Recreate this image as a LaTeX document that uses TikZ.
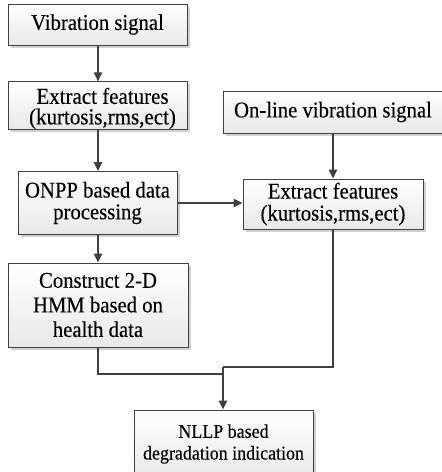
\documentclass[tikz,border=0pt]{standalone}
\usepackage{fontspec}
\setmainfont{Liberation Serif}[FakeStretch=0.92,FakeBold=0.25]
\usetikzlibrary{arrows.meta,shadows,calc}
\definecolor{linec}{HTML}{404040}
\tikzset{
  box/.style={draw=linec, line width=1pt, rectangle, inner sep=0pt, align=center,
    top color=white, bottom color=black!9, text=black,
    drop shadow={shadow xshift=2.5pt, shadow yshift=-2.5pt, fill=black!18, opacity=1},
    font=\fontsize{22.5}{23.6}\selectfont},
  conn/.style={draw=linec, line width=1.4pt},
  arr/.style={conn, -{Triangle[length=9pt,width=8.5pt]}},
}
\begin{document}
\begin{tikzpicture}[x=1pt,y=-1pt]
\useasboundingbox (0,0) rectangle (442,472);
\node[box, minimum width=179pt, minimum height=44pt, font=\fontsize{22.8}{20.5}\selectfont] (f1) at (97.5,105.5) {\rule{0pt}{22pt}\hspace*{10pt}Extract features\\\hspace*{10pt}(kurtosis,rms,ect)};
\node[box, minimum width=179pt, minimum height=41pt] (v1) at (97.5,24.5) {Vibration signal};
\node[box, minimum width=159pt, minimum height=63pt, font=\fontsize{22.5}{21.7}\selectfont] (onpp) at (97.5,203) {ONPP based data\\processing};
\node[box, minimum width=180pt, minimum height=84pt, font=\fontsize{22.5}{24.6}\selectfont] (hmm) at (98,305) {Construct 2-D\\HMM based on\\health data};
\node[box, minimum width=220pt, minimum height=42pt] (ol) at (333,112) {On-line vibration signal};
\node[box, minimum width=180pt, minimum height=50pt, font=\fontsize{22.5}{22}\selectfont] (f2) at (333,204) {Extract features\\(kurtosis,rms,ect)};
\node[box, minimum width=179pt, minimum height=68pt, font=\fontsize{19.5}{21.7}\selectfont] (nllp) at (223.5,444) {NLLP based\\degradation indication};
\coordinate (j1) at (223,374);
\coordinate (j2) at (223,367);
\draw[arr] (v1.south -| 98,0) -- (f1.north -| 98,0);
\draw[arr] (f1.south -| 98,0) -- (onpp.north -| 98,0);
\draw[arr] (onpp.south -| 98,0) -- (hmm.north -| 98,0);
\draw[arr] (onpp.east) -- (onpp.east -| f2.west);
\draw[arr] (ol.south -| 333,0) -- (f2.north -| 333,0);
\draw[conn] (hmm.south -| 98,0) |- (j1);
\draw[conn] (f2.south -| 333,0) |- (j2);
\draw[arr] (j2) -- (nllp.north -| j2);
\end{tikzpicture}
\end{document}
